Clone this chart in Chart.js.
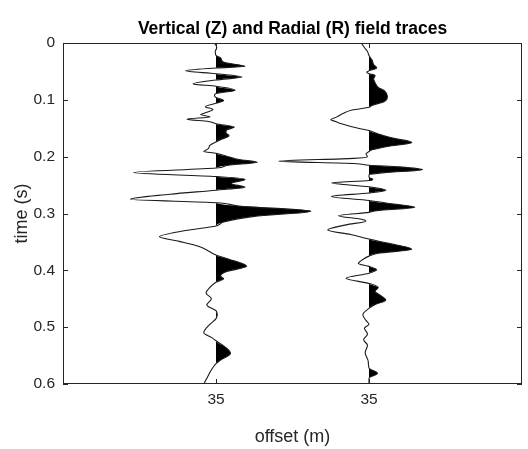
<!DOCTYPE html>
<html>
<head>
<meta charset="utf-8">
<script src="https://cdn.jsdelivr.net/npm/chart.js@4/dist/chart.umd.min.js"></script>
<style>
  html, body { margin: 0; padding: 0; background: #fff; }
</style>
</head>
<body>
<canvas id="chart" width="528" height="449"></canvas>
<script>
// trace positions on the x axis and their labels
const traceOffsets = [1, 2];
const offsetLabels = ['35', '35'];
const timeTicks = [0, 0.1, 0.2, 0.3, 0.4, 0.5, 0.6];
const chartTitle = 'Vertical (Z) and Radial (R) field traces';

// vertical (Z) trace: time (s) and amplitude (in trace spacings)
const zTimes = [0.000, 0.008, 0.015, 0.022, 0.026, 0.034, 0.041, 0.044, 0.049, 0.054,
  0.060, 0.065, 0.072, 0.076, 0.083, 0.089, 0.092, 0.096, 0.101, 0.106,
  0.112, 0.117, 0.122, 0.126, 0.130, 0.134, 0.138, 0.142, 0.148, 0.153,
  0.158, 0.163, 0.169, 0.174, 0.180, 0.186, 0.191, 0.194, 0.200, 0.205,
  0.210, 0.215, 0.220, 0.228, 0.235, 0.240, 0.247, 0.254, 0.259, 0.266,
  0.275, 0.281, 0.287, 0.296, 0.305, 0.315, 0.322, 0.330, 0.341, 0.349,
  0.358, 0.366, 0.373, 0.380, 0.393, 0.402, 0.410, 0.415, 0.421, 0.430,
  0.440, 0.450, 0.461, 0.471, 0.478, 0.485, 0.495, 0.510, 0.518, 0.524,
  0.535, 0.546, 0.558, 0.564, 0.575, 0.590, 0.600];
const zAmps = [-0.01, 0.005, -0.005, 0.0, 0.03, 0.05, 0.19, 0.0, -0.20, 0.0,
  0.17, 0.0, -0.15, 0.0, 0.125, 0.0, -0.01, 0.0, 0.05, 0.0,
  -0.07, -0.02, -0.06, -0.10, -0.04, -0.19, -0.05, 0.0, 0.12, 0.07,
  0.065, 0.085, 0.04, 0.0, -0.04, -0.05, -0.08, 0.0, 0.08, 0.15,
  0.27, 0.08, 0.0, -0.54, 0.0, 0.19, 0.10, 0.19, 0.0, -0.30,
  -0.56, 0.0, 0.15, 0.62, 0.25, 0.05, 0.0, -0.20, -0.37, -0.24,
  -0.11, -0.05, 0.0, 0.08, 0.20, 0.07, 0.03, 0.05, 0.0, -0.04,
  -0.065, -0.03, -0.06, 0.0, 0.008, 0.0, -0.04, -0.08, -0.03, 0.0,
  0.06, 0.095, 0.03, 0.0, -0.03, -0.06, -0.08];

// radial (R) trace
const rTimes = [0.000, 0.008, 0.015, 0.022, 0.030, 0.038, 0.044, 0.049, 0.051, 0.054,
  0.057, 0.063, 0.070, 0.078, 0.084, 0.094, 0.103, 0.110, 0.113, 0.118,
  0.124, 0.130, 0.135, 0.138, 0.142, 0.150, 0.154, 0.160, 0.168, 0.175,
  0.182, 0.188, 0.191, 0.195, 0.200, 0.203, 0.208, 0.212, 0.215, 0.218,
  0.223, 0.228, 0.232, 0.236, 0.240, 0.242, 0.246, 0.253, 0.259, 0.264,
  0.270, 0.277, 0.283, 0.289, 0.295, 0.298, 0.304, 0.310, 0.313, 0.320,
  0.329, 0.337, 0.345, 0.352, 0.363, 0.370, 0.375, 0.381, 0.388, 0.393,
  0.399, 0.405, 0.414, 0.423, 0.430, 0.437, 0.445, 0.452, 0.460, 0.467,
  0.478, 0.488, 0.495, 0.502, 0.512, 0.522, 0.532, 0.545, 0.560, 0.572,
  0.581, 0.590, 0.600];
const rAmps = [-0.05, -0.03, -0.01, 0.0, 0.02, 0.03, 0.05, 0.0, -0.015, 0.0,
  0.04, 0.03, 0.04, 0.06, 0.10, 0.12, 0.10, 0.02, 0.0, -0.11,
  -0.17, -0.21, -0.25, -0.22, -0.18, -0.07, 0.0, 0.06, 0.17, 0.28,
  0.12, 0.02, 0.0, -0.02, -0.01, -0.10, -0.59, -0.10, 0.0, 0.20,
  0.35, 0.10, 0.0, 0.0, 0.025, 0.0, -0.245, 0.0, 0.11, 0.0,
  -0.245, 0.0, 0.15, 0.30, 0.05, 0.0, -0.20, -0.05, -0.02, -0.15,
  -0.27, -0.12, 0.0, 0.12, 0.28, 0.06, 0.0, -0.04, -0.07, 0.0,
  0.05, 0.0, -0.15, 0.0, 0.06, 0.04, 0.08, 0.11, 0.04, 0.0,
  -0.04, -0.02, 0.0, -0.03, -0.01, -0.035, -0.01, -0.025, -0.005, 0.0,
  0.055, 0.0, 0.0];

const fontFam = '"Liberation Sans", Arial, Helvetica, sans-serif';
const ink = '#262626';

const toPoints = (times, amps, base, positiveOnly) =>
  times.map((t, i) => ({ y: t, x: base + (positiveOnly ? Math.max(amps[i], 0) : amps[i]) }));

const traces = [[zTimes, zAmps], [rTimes, rAmps]];

const lineSets = traces.map(([t, a], i) => ({
  data: toPoints(t, a, traceOffsets[i], false),
  borderColor: '#1a1a1a',
  borderWidth: 1.1,
  pointRadius: 0,
  fill: false,
  cubicInterpolationMode: 'monotone',
  order: 0
}));
const fillSets = traces.map(([t, a], i) => ({
  data: toPoints(t, a, traceOffsets[i], true),
  borderWidth: 0,
  borderColor: 'rgba(0,0,0,0)',
  backgroundColor: '#000',
  pointRadius: 0,
  fill: { value: traceOffsets[i] },
  cubicInterpolationMode: 'monotone',
  order: 1
}));

// MATLAB-like box with inward ticks, title centred over the axes
const boxPlugin = {
  id: 'box',
  afterDatasetsDraw(chart) {
    const { ctx, chartArea: a, scales } = chart;
    const tick = 5;
    ctx.save();
    ctx.strokeStyle = ink;
    ctx.lineWidth = 1;
    ctx.strokeRect(Math.round(a.left) + 0.5, Math.round(a.top) + 0.5,
      Math.round(a.right - a.left) - 1, Math.round(a.bottom - a.top) - 1);
    ctx.beginPath();
    for (const v of timeTicks) {
      const py = Math.round(scales.y.getPixelForValue(v)) + 0.5;
      ctx.moveTo(a.left, py); ctx.lineTo(a.left + tick, py);
      ctx.moveTo(a.right, py); ctx.lineTo(a.right - tick, py);
    }
    for (const v of traceOffsets) {
      const px = Math.round(scales.x.getPixelForValue(v)) + 0.5;
      ctx.moveTo(px, a.bottom); ctx.lineTo(px, a.bottom - tick);
      ctx.moveTo(px, a.top); ctx.lineTo(px, a.top + tick);
    }
    ctx.stroke();

    ctx.fillStyle = '#000';
    ctx.font = 'bold 17.5px ' + fontFam;
    ctx.textAlign = 'center';
    ctx.textBaseline = 'middle';
    ctx.fillText(chartTitle, (a.left + a.right) / 2, 29);
    ctx.restore();
  }
};

new Chart(document.getElementById('chart'), {
  type: 'line',
  data: { datasets: [...lineSets, ...fillSets] },
  plugins: [boxPlugin],
  options: {
    indexAxis: 'y',
    responsive: false,
    animation: false,
    devicePixelRatio: 1,
    layout: { padding: { left: 0, right: 6, top: 43, bottom: 0 } },
    plugins: {
      legend: { display: false },
      tooltip: { enabled: false },
      title: { display: false }
    },
    scales: {
      x: {
        type: 'linear',
        min: 0,
        max: 3,
        afterBuildTicks: s => { s.ticks = traceOffsets.map(v => ({ value: v })); },
        afterFit: s => { s.height = 65; },
        grid: { display: false, drawTicks: false },
        border: { display: false },
        ticks: {
          autoSkip: false,
          maxRotation: 0,
          padding: 6,
          color: ink,
          font: { family: fontFam, size: 15.5 },
          callback: (v, i) => offsetLabels[i]
        },
        title: {
          display: true,
          text: 'offset (m)',
          color: ink,
          font: { family: fontFam, size: 18 },
          padding: { top: 0, bottom: 1 }
        }
      },
      y: {
        type: 'linear',
        reverse: true,
        min: 0,
        max: 0.6,
        afterBuildTicks: s => { s.ticks = timeTicks.map(v => ({ value: v })); },
        afterFit: s => { s.width = 63; },
        grid: { display: false, drawTicks: false },
        border: { display: false },
        ticks: {
          padding: 8,
          color: ink,
          font: { family: fontFam, size: 15.5 },
          callback: v => String(+v.toFixed(1))
        },
        title: {
          display: true,
          text: 'time (s)',
          color: ink,
          font: { family: fontFam, size: 18 },
          padding: { top: 11, bottom: 0 }
        }
      }
    }
  }
});
</script>
</body>
</html>
